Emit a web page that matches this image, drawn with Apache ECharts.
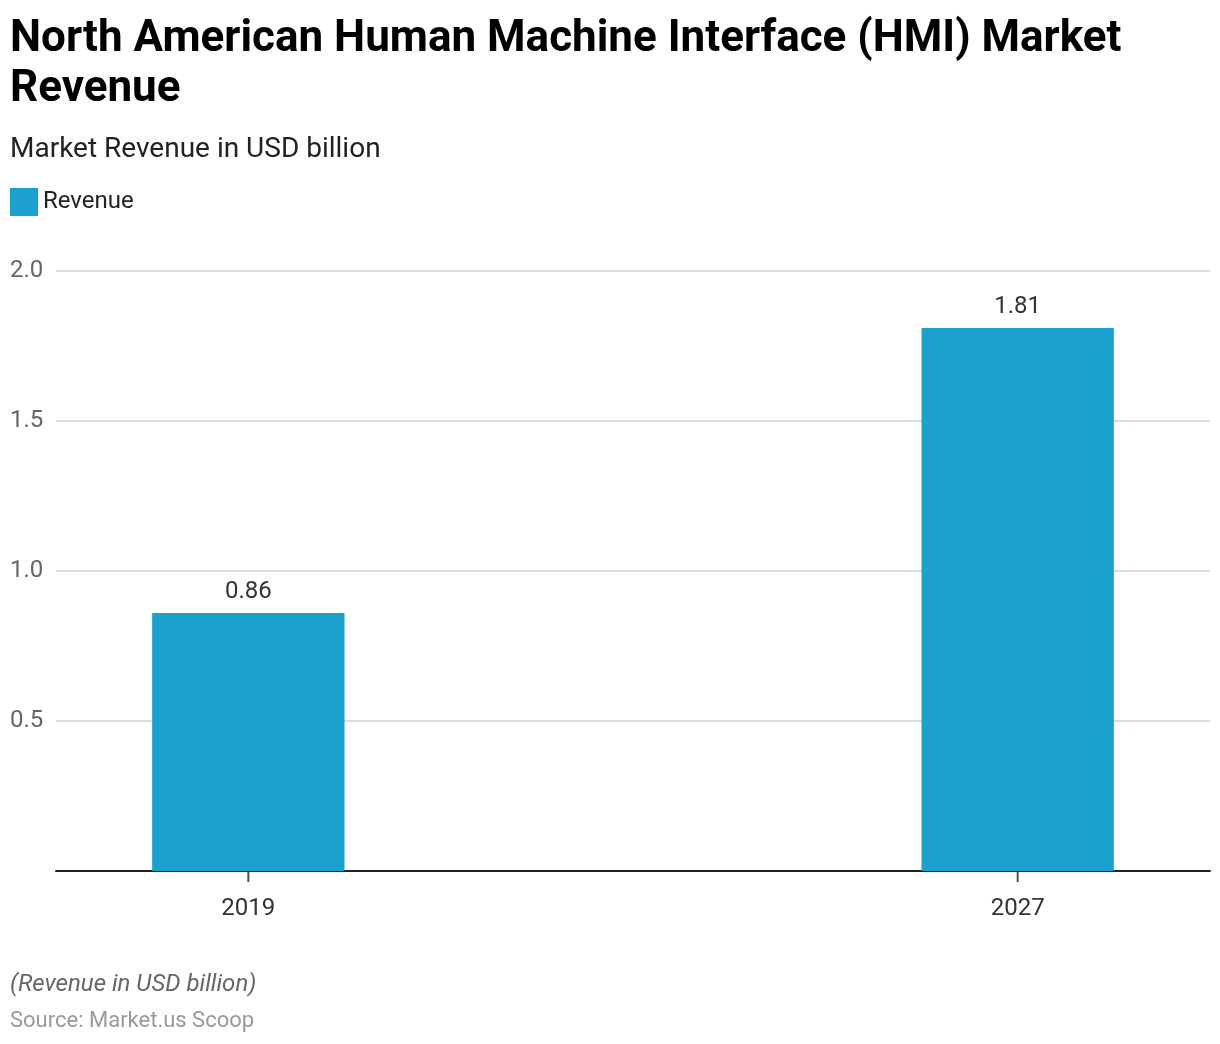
<!DOCTYPE html>
<html>
<head>
<meta charset="utf-8">
<script src="https://cdn.jsdelivr.net/npm/echarts@6/dist/echarts.min.js"></script>
<style>
html,body{margin:0;padding:0;background:#fff;}
#chart{width:1220px;height:1044px;}
</style>
</head>
<body>
<div id="chart"></div>
<script>
const categories = ['2019', '2027'];
const revenue = [0.86, 1.81];
const yTicks = [0, 0.5, 1.0, 1.5, 2.0];

// spacer category between the two years to place bars at 1/6 and 5/6 of the width
const axisData = [categories[0], '', categories[1]];
const seriesData = [revenue[0], '-', revenue[1]];
const tickData = [0, '-', 0];

const chart = echarts.init(document.getElementById('chart'));
const FONT = 'Roboto';
chart.setOption({
  animation: false,
  backgroundColor: '#fff',
  textStyle: { fontFamily: FONT },
  title: [
    {
      text: 'North American Human Machine Interface (HMI) Market\nRevenue',
      left: 10, top: 15, padding: 0,
      textStyle: { fontFamily: FONT, fontSize: 44, fontWeight: 'bold', color: '#000', lineHeight: 50 }
    },
    {
      text: 'Market Revenue in USD billion',
      left: 10, top: 136, padding: 0,
      textStyle: { fontFamily: FONT, fontSize: 28, fontWeight: 'normal', color: '#222' }
    },
    {
      text: '(Revenue in USD billion)',
      left: 10, top: 973, padding: 0,
      textStyle: { fontFamily: FONT, fontSize: 24, fontStyle: 'italic', fontWeight: 'normal', color: '#666' }
    },
    {
      text: 'Source: Market.us Scoop',
      left: 10, top: 1010, padding: 0,
      textStyle: { fontFamily: FONT, fontSize: 22, fontWeight: 'normal', color: '#999' }
    }
  ],
  legend: {
    left: 10, top: 188, padding: 0,
    itemWidth: 28, itemHeight: 28, itemGap: 20,
    icon: 'rect',
    textStyle: { fontFamily: FONT, fontSize: 24, color: '#222' },
    data: ['Revenue']
  },
  grid: { left: 56, right: 10, top: 271, bottom: 173, containLabel: false },
  xAxis: {
    type: 'category',
    data: axisData,
    axisLine: { lineStyle: { color: '#222', width: 2 } },
    axisTick: { show: false },
    axisLabel: { fontFamily: FONT, fontSize: 24, color: '#333', margin: 26, interval: 0 }
  },
  yAxis: {
    type: 'value',
    min: yTicks[0], max: yTicks[yTicks.length - 1], interval: 0.5,
    axisLine: { show: false },
    axisTick: { show: false },
    splitLine: { lineStyle: { color: '#d0d0d0', width: 1.5 } },
    axisLabel: {
      fontFamily: FONT, fontSize: 24, color: '#666',
      margin: 46, align: 'left',
      formatter: function (v) { return v === 0 ? '' : v.toFixed(1); }
    }
  },
  series: [
    {
      name: 'Revenue',
      type: 'bar',
      data: seriesData,
      barWidth: '50%',
      itemStyle: { color: '#1aa1ce' },
      label: {
        show: true, position: 'top', distance: 9,
        fontFamily: FONT, fontSize: 24, color: '#333',
        formatter: function (p) { return p.value; }
      }
    },
    {
      name: 'ticks',
      type: 'scatter',
      data: tickData,
      symbol: 'rect',
      symbolSize: [2, 11],
      symbolOffset: [0, 5.5],
      itemStyle: { color: '#222' },
      silent: true,
      clip: false,
      z: 10
    }
  ]
});
</script>
</body>
</html>
